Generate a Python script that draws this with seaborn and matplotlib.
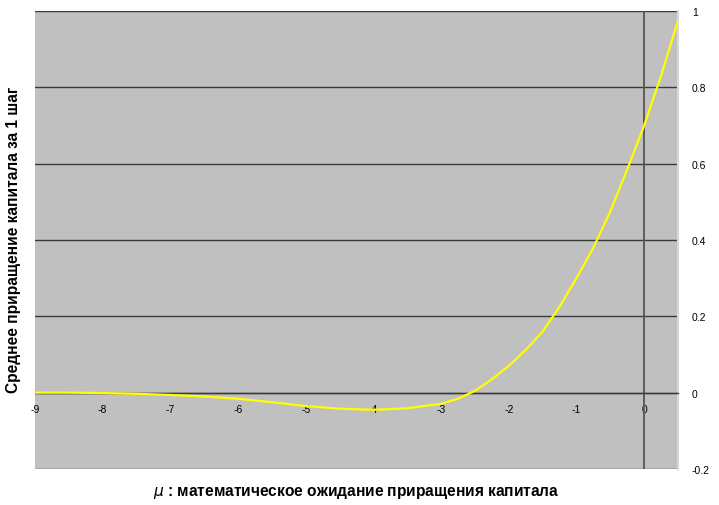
"""Mean capital increment per step vs. expected increment (mu)."""

import matplotlib

matplotlib.use("Agg")

import matplotlib.pyplot as plt
import pandas as pd
import seaborn as sns

# Values.
mu = [-9, -8.5, -8, -7.5, -7, -6.5, -6, -5.5, -5, -4.5, -4, -3.5, -3,
      -2.75, -2.5, -2.25, -2, -1.75, -1.5, -1.25, -1, -0.75, -0.5, -0.25,
      0, 0.25, 0.5]
mean_gain = [0.0, 0.0, -0.001, -0.003, -0.006, -0.010, -0.016, -0.025,
             -0.035, -0.042, -0.045, -0.041, -0.029, -0.016, 0.005, 0.035,
             0.070, 0.112, 0.160, 0.225, 0.300, 0.380, 0.475, 0.585,
             0.700, 0.830, 0.975]
x_ticks = [-9, -8, -7, -6, -5, -4, -3, -2, -1, 0]
y_ticks = [-0.2, 0, 0.2, 0.4, 0.6, 0.8, 1]

sns.set_theme(style="white")
plt.rcParams["font.family"] = ["Liberation Sans", "DejaVu Sans"]

df = pd.DataFrame({"mu": mu, "gain": mean_gain})

fig = plt.figure(figsize=(7.19, 5.06), dpi=100)
ax = fig.add_axes([35 / 719, 36 / 506, 643 / 719, 458 / 506])
ax.set_facecolor("#c0c0c0")

# Excel-style horizontal gridlines and the vertical axis line at mu = 0.
for y in y_ticks:
    ax.axhline(y, color="#3a3a3a", linewidth=1.0, zorder=1)
ax.axvline(0, color="#555555", linewidth=1.3, zorder=1)

sns.lineplot(data=df, x="mu", y="gain", color="#ffff00", linewidth=1.6, ax=ax, zorder=3)

ax.set_xlim(-9, 0.5)
ax.set_ylim(-0.2, 1)
ax.set_xticks(x_ticks)
ax.set_xticklabels([f"{v:g}" for v in x_ticks])
ax.set_yticks(y_ticks)
ax.set_yticklabels([f"{v:g}" for v in y_ticks])

# x axis crosses at zero, value axis labels on the right
for side in ["top", "left"]:
    ax.spines[side].set_visible(False)
ax.spines["right"].set_color("#d8d8d8")
ax.spines["right"].set_linewidth(1.5)
ax.spines["bottom"].set_position(("data", 0))
ax.spines["bottom"].set_color("#3a3a3a")
ax.spines["bottom"].set_linewidth(1.0)
ax.yaxis.tick_right()
ax.tick_params(axis="x", direction="inout", length=5, width=1, color="#3a3a3a",
               labelsize=7.5, labelcolor="black", pad=6)
ax.tick_params(axis="y", length=0, labelsize=7.5, labelcolor="black", pad=10)
ax.set_xlabel("")
ax.set_ylabel("")

fig.text(14 / 719, 1 - 240 / 506, "Среднее приращение капитала за 1 шаг",
         rotation=90, ha="center", va="center", fontsize=11.2, fontweight="bold",
         color="black")
fig.text(356 / 719, 1 - 493 / 506, r"$\mu$ : математическое ожидание приращения капитала",
         ha="center", va="center", fontsize=11.2, fontweight="bold", color="black")

fig.savefig("out.png", dpi=100)
